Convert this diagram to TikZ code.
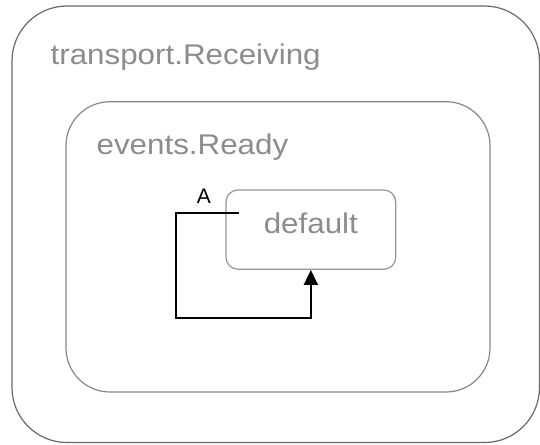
\documentclass[tikz,border=0pt]{standalone}
\usepackage{fontspec}
\setmainfont{Liberation Sans}
\newfontfamily\statefont[FakeStretch=1.1]{Liberation Sans}
\usepackage{tikz}
\usetikzlibrary{positioning, arrows.meta, calc}
\definecolor{outergray}{RGB}{105,105,105}
\definecolor{innergray}{RGB}{135,135,135}
\definecolor{leafgray}{RGB}{150,150,150}
\definecolor{namegray}{RGB}{140,140,140}

\begin{document}
\begin{tikzpicture}[x=1pt, y=-1pt,
    state/.style={rectangle, line width=1.2pt, inner sep=0pt},
    statename/.style={font=\statefont\fontsize{28.5}{34}\selectfont, text=namegray, inner sep=0pt, anchor=base west},
    trans/.style={draw=black, line width=1.6pt, -{Triangle[width=14pt, length=15pt]}}]
    \useasboundingbox (0,0) rectangle (540,444);
    % States
    \node (receiving) [state, draw=outergray, rounded corners=55pt, minimum width=527.5pt, minimum height=436.5pt] at (275.75,224.25) {};
    \node (ready) [state, draw=innergray, rounded corners=44pt, minimum width=424pt, minimum height=290.3pt] at (278,246.85) {};
    \node (default) [state, draw=leafgray, rounded corners=12pt, minimum width=169.7pt, minimum height=79.3pt,
        font=\statefont\fontsize{28.5}{34}\selectfont, text=namegray, text height=20.8pt, text depth=13.5pt] at (310.85,229.65) {default};

    % State names
    \node (receivingname) [statename] at ([xshift=39pt, yshift=-59pt]receiving.north west) {transport.Receiving};
    \node (readyname) [statename] at ([xshift=31pt, yshift=-53pt]ready.north west) {events.Ready};

    % Transition
    \coordinate (loopstart) at (239,212.7);
    \coordinate (loopcorner) at (176,318);
    \draw[trans] (loopstart) -| node[pos=0.278, above=8.5pt, inner sep=0pt, font=\fontsize{21}{25}\selectfont] {A} (loopcorner) -| (default.south);
\end{tikzpicture}
\end{document}
